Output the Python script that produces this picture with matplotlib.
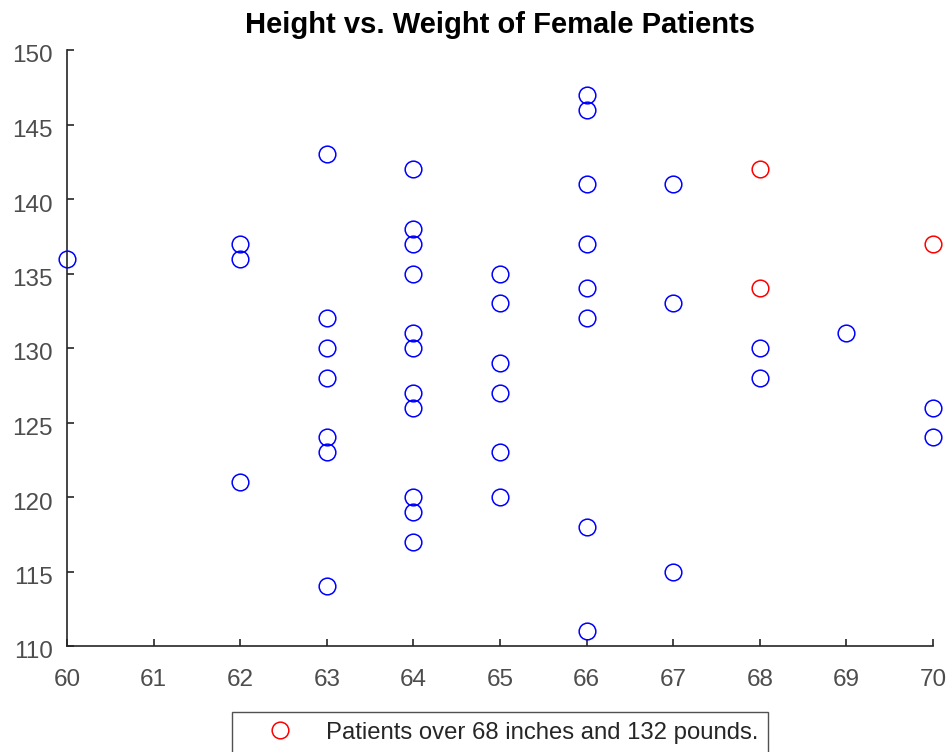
import matplotlib
matplotlib.use("Agg")
import matplotlib.pyplot as plt
import matplotlib.transforms as mtransforms

plt.rcParams['font.family'] = ['Liberation Sans', 'DejaVu Sans']

# Data (height in inches, weight in pounds)
blue_height = [60,
               62, 62, 62,
               63, 63, 63, 63, 63, 63, 63,
               64, 64, 64, 64, 64, 64, 64, 64, 64, 64, 64,
               65, 65, 65, 65, 65, 65,
               66, 66, 66, 66, 66, 66, 66, 66,
               67, 67, 67,
               68, 68,
               69,
               70, 70]
blue_weight = [136,
               137, 136, 121,
               143, 132, 130, 128, 124, 123, 114,
               142, 138, 137, 135, 131, 130, 127, 126, 120, 119, 117,
               135, 133, 129, 127, 123, 120,
               147, 146, 141, 137, 134, 132, 118, 111,
               141, 133, 115,
               130, 128,
               131,
               126, 124]
red_height = [68, 68, 70]
red_weight = [142, 134, 137]

title_text = "Height vs. Weight of Female Patients"
legend_label = "Patients over 68 inches and 132 pounds."
xticks = [60, 61, 62, 63, 64, 65, 66, 67, 68, 69, 70]
yticks = [110, 115, 120, 125, 130, 135, 140, 145, 150]

fig = plt.figure(figsize=(9.52, 7.52), dpi=100)
ax = fig.add_axes([67/952, 1-646/752, (933-67)/952, (646-50)/752])

ax.plot(blue_height, blue_weight, linestyle='none', marker='o', markersize=12,
        markerfacecolor='none', markeredgecolor='#0000ff', markeredgewidth=1.1,
        clip_on=False, zorder=3)
ax.plot(red_height, red_weight, linestyle='none', marker='o', markersize=12,
        markerfacecolor='none', markeredgecolor='#ff0000', markeredgewidth=1.1,
        clip_on=False, zorder=3, label=legend_label)

ax.set_xlim(60, 70)
ax.set_ylim(110, 150)
ax.set_xticks(xticks)
ax.set_yticks(yticks)

axis_color = '#262626'
for s in ['top', 'right']:
    ax.spines[s].set_visible(False)
for s in ['left', 'bottom']:
    ax.spines[s].set_color(axis_color)
    ax.spines[s].set_linewidth(1.2)

ax.tick_params(direction='in', length=5, width=1.2, color=axis_color,
               labelcolor='#4d4d4d', labelsize=17.5)
ax.tick_params(axis='x', pad=16.5)
ax.tick_params(axis='y', pad=10)

# MATLAB-like slight downward offset of y tick labels
offset = mtransforms.ScaledTranslation(0, -0.04, fig.dpi_scale_trans)
for lbl in ax.get_yticklabels():
    lbl.set_transform(lbl.get_transform() + offset)

ax.set_title(title_text, fontsize=21, fontweight='bold', color='black', pad=12)

leg = fig.legend(loc='upper center', bbox_to_anchor=(500/952, 1-712/752),
                 fontsize=17.2, frameon=True, fancybox=False, edgecolor='#262626',
                 borderpad=0.4, handletextpad=0.35, handlelength=3.2,
                 borderaxespad=0)
leg.get_frame().set_linewidth(1.0)
for t in leg.get_texts():
    t.set_color('#262626')

fig.savefig('out.png', dpi=100)
